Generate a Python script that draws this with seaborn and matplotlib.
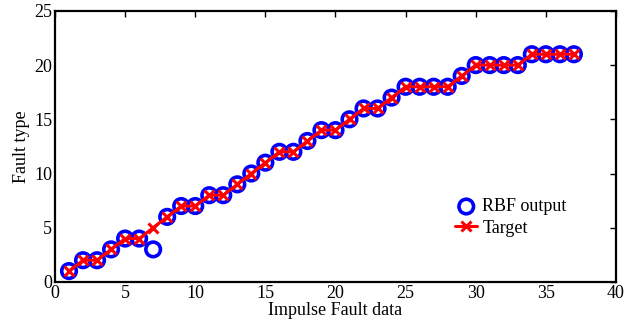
import matplotlib
matplotlib.use("Agg")
import matplotlib.pyplot as plt
import seaborn as sns
import pandas as pd

# Fault sample index and class values
sample_idx = list(range(1, 38))
target = [1, 2, 2, 3, 4, 4, 5, 6, 7, 7, 8, 8, 9, 10, 11, 12, 12, 13, 14, 14,
          15, 16, 16, 17, 18, 18, 18, 18, 19, 20, 20, 20, 20, 21, 21, 21, 21]
rbf_output = [1, 2, 2, 3, 4, 4, 3, 6, 7, 7, 8, 8, 9, 10, 11, 12, 12, 13, 14, 14,
              15, 16, 16, 17, 18, 18, 18, 18, 19, 20, 20, 20, 20, 21, 21, 21, 21]

df = pd.DataFrame({"x": sample_idx, "target": target, "rbf": rbf_output})

sns.set_style("white")
plt.rcParams["font.family"] = ["Liberation Serif", "DejaVu Serif"]
plt.rcParams["text.color"] = "black"
plt.rcParams["axes.labelcolor"] = "black"
plt.rcParams["xtick.color"] = "black"
plt.rcParams["ytick.color"] = "black"

fig = plt.figure(figsize=(6.37, 3.2), dpi=100)
ax = fig.add_axes([0.0863, 0.119, 0.8807, 0.847])

sns.scatterplot(data=df, x="x", y="rbf", ax=ax, marker="o", s=110,
                facecolor="none", edgecolor="#0000ff", linewidth=2.6,
                label="RBF output", zorder=2)
sns.lineplot(data=df, x="x", y="target", ax=ax, color="#ff0000", linewidth=2.2,
             marker="x", markersize=7, markeredgewidth=2.2,
             markeredgecolor="#ff0000", label="Target", zorder=3)

ax.set_xlim(0, 40)
ax.set_ylim(0, 25)
ax.set_xticks(range(0, 41, 5))
ax.set_yticks(range(0, 26, 5))
ax.set_xlabel("Impulse Fault data", fontsize=13, labelpad=0)
ax.set_ylabel("Fault type", fontsize=13, labelpad=3)
ax.tick_params(direction="in", length=4, width=1, labelsize=13,
               top=True, right=True, colors="black", pad=2)
for sp in ax.spines.values():
    sp.set_visible(True)
    sp.set_color("black")
    sp.set_linewidth(1.6)

ax.legend(loc="lower right", bbox_to_anchor=(0.935, 0.12), frameon=False,
          fontsize=13, handlelength=1.2, handletextpad=0.3,
          labelspacing=0.25, borderpad=0.2)

fig.savefig("out.png", dpi=100)
